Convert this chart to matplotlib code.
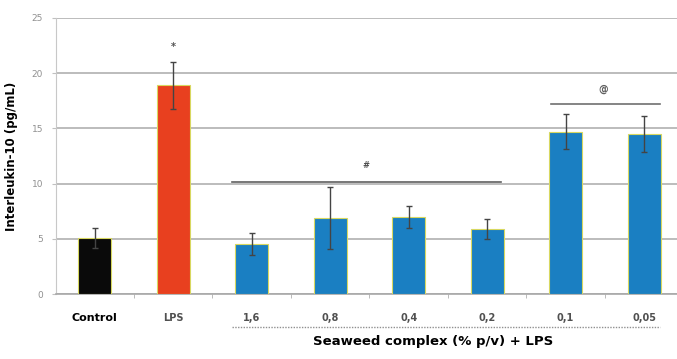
import matplotlib
matplotlib.use('Agg')
import matplotlib.pyplot as plt
import numpy as np

# data
categories = ['Control', 'LPS', '1,6', '0,8', '0,4', '0,2', '0,1', '0,05']
values = [5.1, 18.9, 4.5, 6.9, 7.0, 5.9, 14.7, 14.5]
errors = [0.9, 2.1, 1.0, 2.8, 1.0, 0.9, 1.6, 1.6]
colors = ['#0a0a0a', '#e8401f', '#1a7fc2', '#1a7fc2', '#1a7fc2', '#1a7fc2', '#1a7fc2', '#1a7fc2']
yticks = [0, 5, 10, 15, 20, 25]

fig = plt.figure(figsize=(6.77, 3.59), dpi=100)
ax = fig.add_axes([0.082, 0.181, 0.918, 0.769])

x = np.arange(len(categories))
ax.bar(x, values, width=0.42, color=colors, edgecolor='#d8d860', linewidth=0.8, zorder=3)
ax.errorbar(x, values, yerr=errors, fmt='none', ecolor='#444444', elinewidth=1.0,
            capsize=2, capthick=1.0, zorder=4)

ax.set_xlim(-0.5, 7.42)
ax.set_ylim(0, 25)
ax.set_yticks(yticks)
ax.grid(axis='y', color='#b0b0b0', linewidth=1.2, zorder=0)
ax.tick_params(axis='y', labelsize=6.5, colors='#c0c0c0', labelcolor='#909090', length=3, pad=6)

ax.set_xticks(x)
ax.set_xticklabels(categories)
ax.set_xticks(np.arange(0.5, 7.5, 1), minor=True)
ax.tick_params(axis='x', which='major', length=0, pad=14)
ax.tick_params(axis='x', which='minor', length=3, color='#b0b0b0')
for i, lab in enumerate(ax.get_xticklabels()):
    lab.set_fontweight('bold')
    if i == 0:
        lab.set_fontsize(8)
        lab.set_color('black')
    else:
        lab.set_fontsize(7)
        lab.set_color('#505050')

for s in ['top', 'right']:
    ax.spines[s].set_visible(False)
ax.spines['left'].set_color('#c8c8c8')
ax.spines['bottom'].set_color('#a8a8a8')
ax.spines['bottom'].set_linewidth(1.2)

ax.set_ylabel('Interleukin-10 (pg/mL)', fontsize=8.5, fontweight='bold', labelpad=10)

# significance marks
ax.text(1, 22.4, '*', ha='center', va='center', fontsize=7, color='#505050', fontweight='bold')
ax.plot([1.75, 5.18], [10.1, 10.1], color='#606060', linewidth=1.2, zorder=5)
ax.text(3.46, 11.6, '#', ha='center', va='center', fontsize=6, color='#505050', fontweight='bold')
ax.plot([5.82, 7.2], [17.2, 17.2], color='#707070', linewidth=1.2, zorder=5)
ax.text(6.48, 18.6, '@', ha='center', va='center', fontsize=7, color='#606060', fontweight='bold')

# group label under seaweed concentrations
ax.plot([1.75, 7.2], [-3.0, -3.0], color='#909090', linewidth=1.0, linestyle=(0, (1, 1)),
        clip_on=False)
ax.text(4.31, -4.3, 'Seaweed complex (% p/v) + LPS', ha='center', va='center',
        fontsize=9.5, fontweight='bold', color='black', clip_on=False)

fig.savefig('out.png', dpi=100)
plt.close(fig)
